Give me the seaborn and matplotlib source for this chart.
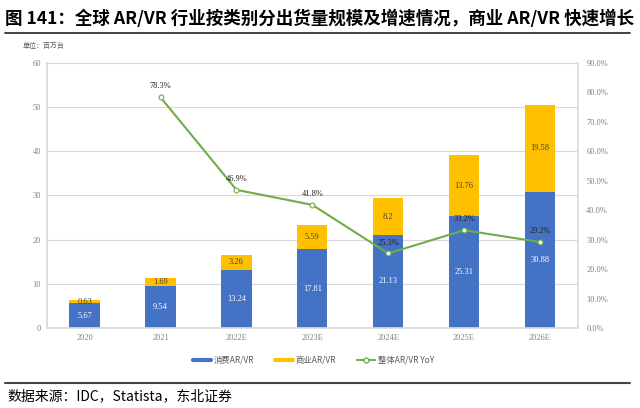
import matplotlib
matplotlib.use("Agg")
import matplotlib.pyplot as plt
import seaborn as sns
import pandas as pd
import numpy as np
from matplotlib.lines import Line2D

sns.set_theme(style="white")
plt.rcParams['font.family'] = ['Noto Sans CJK SC', 'DejaVu Sans']

years = ["2020", "2021", "2022E", "2023E", "2024E", "2025E", "2026E"]
consumer = [5.67, 9.54, 13.24, 17.81, 21.13, 25.31, 30.88]
commercial = [0.63, 1.69, 3.26, 5.59, 8.2, 13.76, 19.58]
yoy = [np.nan, 78.3, 46.9, 41.8, 25.3, 33.2, 29.2]
commercial_labels = ["0.63", "1.69", "3.26", "5.59", "8.2", "13.76", "19.58"]

blue = "#4472C4"
gold = "#FFC000"
green = "#70AD47"
gray = "#7f7f7f"
serif = "Liberation Serif"

df = pd.DataFrame({"year": years, "consumer": consumer, "commercial": commercial,
                   "total": [a + b for a, b in zip(consumer, commercial)], "yoy": yoy})

fig = plt.figure(figsize=(6.4, 4.08), dpi=100)
ax = fig.add_axes([0.073, 0.196, 0.830, 0.650])

sns.barplot(data=df, x="year", y="consumer", color=blue, width=0.4, ax=ax,
            saturation=1, edgecolor="none")
sns.barplot(data=df, x="year", y="commercial", color=gold, width=0.4, ax=ax,
            saturation=1, bottom=df["consumer"], edgecolor="none")

ax.set_ylim(0, 60)
ax.set_yticks(range(0, 61, 10))
ax.set_xlim(-0.5, 6.5)
ax.set_xlabel("")
ax.set_ylabel("")
ax.grid(axis="y", color="#d9d9d9", linewidth=0.8)
ax.set_axisbelow(True)
for s in ["top", "right", "bottom", "left"]:
    ax.spines[s].set_visible(False)
ax.spines["left"].set_visible(True)
ax.spines["left"].set_color("#d9d9d9")
ax.spines["bottom"].set_visible(True)
ax.spines["bottom"].set_color("#d9d9d9")
ax.tick_params(axis="both", length=0, labelsize=6, labelcolor=gray, pad=4)
for lab in ax.get_xticklabels() + ax.get_yticklabels():
    lab.set_fontfamily(serif)

for i in range(len(years)):
    ax.text(i, consumer[i] / 2, f"{consumer[i]:.2f}", ha="center", va="center",
            color="white", fontsize=6, family=serif)
    ax.text(i, consumer[i] + commercial[i] / 2, commercial_labels[i], ha="center",
            va="center", color="#404040", fontsize=6, family=serif)

ax2 = ax.twinx()
sns.lineplot(x=np.arange(len(years)), y=df["yoy"], ax=ax2, color=green, linewidth=1.5,
             marker="o", markersize=3.5, markerfacecolor="white", markeredgecolor=green,
             markeredgewidth=0.8)
ax2.set_ylim(0, 90)
ax2.set_yticks(range(0, 91, 10))
ax2.set_yticklabels([f"{v:.1f}%" for v in range(0, 91, 10)])
ax2.set_ylabel("")
for s in ["top", "left", "bottom"]:
    ax2.spines[s].set_visible(False)
ax2.spines["right"].set_color("#d9d9d9")
ax2.tick_params(axis="y", length=0, labelsize=6, labelcolor=gray, pad=6)
for lab in ax2.get_yticklabels():
    lab.set_fontfamily(serif)
for i, v in enumerate(yoy):
    if not np.isnan(v):
        ax2.annotate(f"{v:.1f}%", (i, v), xytext=(0, 5), textcoords="offset points",
                     ha="center", va="bottom", fontsize=6, color="#222222", family=serif)

handles = [Line2D([], [], color=blue, linewidth=3),
           Line2D([], [], color=gold, linewidth=3),
           Line2D([], [], color=green, linewidth=1.5, marker="o", markersize=3.5,
                  markerfacecolor="white", markeredgecolor=green)]
leg = fig.legend(handles, ["消费AR/VR", "商业AR/VR", "整体AR/VR YoY"], loc="center",
                 bbox_to_anchor=(0.49, 0.117), ncol=3, frameon=False, fontsize=6,
                 handlelength=2.2, columnspacing=2.5, handletextpad=0.3)
for t in leg.get_texts():
    t.set_color("#595959")

fig.text(0.008, 0.955, "图 141：全球 AR/VR 行业按类别分出货量规模及增速情况，商业 AR/VR 快速增长",
         fontsize=12.6, fontweight="bold", ha="left", va="center", color="black")
fig.add_artist(Line2D([0.008, 0.985], [0.918, 0.918], color="#222222", linewidth=1.2,
                      transform=fig.transFigure))
fig.text(0.035, 0.888, "单位：百万台", fontsize=5, color="#595959", ha="left", va="center")
fig.add_artist(Line2D([0.008, 0.985], [0.062, 0.062], color="#444444", linewidth=1.5,
                      transform=fig.transFigure))
fig.text(0.012, 0.030, "数据来源：IDC，Statista，东北证券", fontsize=10, color="black",
         ha="left", va="center")

fig.savefig("out.png", dpi=100)
